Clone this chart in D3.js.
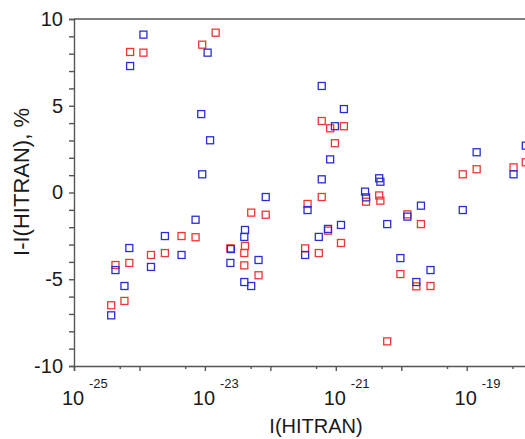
<!DOCTYPE html>
<html>
<head>
<meta charset="utf-8">
<script src="https://cdn.jsdelivr.net/npm/d3@7"></script>
<style>
  body { margin: 0; background: #fff; }
  svg { display: block; font-family: "Liberation Sans", Arial, sans-serif; }
</style>
</head>
<body>
<svg></svg>
<script>
// Chart size
var w = 525;
var h = 439;
var margin = { top: 19, left: 74, bottom: 73 };

// Blue series: line intensity (HITRAN) and deviation, %
var blueIntensity = [
  1.15e-24, 7.2e-25, 1.1e-23, 8.8e-24, 1.2e-23, 9.1e-24, 6.1e-22, 1.33e-21, 9.7e-22, 8.2e-22,
  6.1e-22, 8.5e-23, 2.8e-21, 2.9e-21, 4.6e-21, 4.8e-21, 1.42e-19, 5.2e-19, 8.0e-19, 7.2e-24,
  2.45e-24, 7.0e-25, 4.4e-24, 4.3e-25, 1.5e-24, 5.9e-25, 3.7e-25, 4.1e-23, 4.0e-23, 2.5e-23,
  2.45e-23, 6.6e-23, 4.0e-23, 5.1e-23, 3.7e-22, 1.2e-21, 7.6e-22, 5.5e-22, 3.4e-22, 2.0e-20,
  8.7e-20, 1.24e-20, 6.1e-21, 9.7e-21, 2.8e-20, 1.7e-20
];
var blueDeviation = [
  9.10, 7.29, 8.06, 4.52, 3.01, 1.05, 6.14, 4.81, 3.82, 1.91,
  0.76, -0.26, 0.05, -0.28, 0.82, 0.62, 2.32, 1.05, 2.70, -1.57,
  -2.51, -3.20, -3.60, -4.47, -4.29, -5.39, -7.08, -2.16, -2.56, -3.26,
  -4.06, -3.89, -5.16, -5.39, -1.01, -1.87, -2.10, -2.56, -3.60, -0.76,
  -1.01, -1.39, -1.82, -3.78, -4.47, -5.16
];

// Red series
var redIntensity = [
  7.2e-25, 1.15e-24, 9.1e-24, 1.46e-23, 6.1e-22, 8.2e-22, 1.33e-21, 9.7e-22, 6.1e-22, 4.6e-21,
  2.9e-21, 4.8e-21, 8.7e-20, 1.42e-19, 5.2e-19, 8.0e-19, 4.4e-24, 7.2e-24, 1.5e-24, 2.45e-24,
  4.3e-25, 7.0e-25, 5.9e-25, 3.7e-25, 5.1e-23, 8.5e-23, 2.45e-23, 4.1e-23, 4.0e-23, 4.0e-23,
  6.6e-23, 3.7e-22, 7.6e-22, 1.2e-21, 3.4e-22, 5.5e-22, 1.24e-20, 2.0e-20, 9.7e-21, 1.7e-20,
  2.8e-20, 6.1e-21
];
var redDeviation = [
  8.10, 8.06, 8.52, 9.21, 4.12, 3.70, 3.82, 2.84, -0.26, -0.17,
  -0.53, -0.47, 1.05, 1.34, 1.45, 1.74, -2.51, -2.58, -3.60, -3.49,
  -4.18, -4.06, -6.25, -6.50, -1.16, -1.28, -3.22, -3.08, -3.49, -4.20,
  -4.77, -0.66, -2.20, -2.91, -3.22, -3.49, -1.26, -1.82, -4.70, -5.41,
  -5.39, -8.58
];

// Tick values
var xMajorExp = [-25, -24, -23, -22, -21, -20, -19, -18];
var xLabelExp = [-25, -23, -21, -19];
var xMinor = [5e-25, 5e-24, 5e-23, 5e-22, 5e-21, 5e-20, 5e-19];
var yTicks = d3.range(-10, 11, 1);
var yLabels = [-10, -5, 0, 5, 10];

var svg = d3.select("svg")
    .attr("width", w)
    .attr("height", h);

// Scales (x axis runs a bit past the right edge of the picture)
var x = d3.scaleLog()
    .domain([1e-25, 1e-18])
    .range([margin.left, margin.left + 7 * 65.45]);

var y = d3.scaleLinear()
    .domain([-10, 10])
    .range([h - margin.bottom, margin.top]);

var axisColor = "#555";
var textColor = "#1a1a1a";

// Top frame line
svg.append("line")
    .attr("x1", x(1e-25)).attr("x2", x(1e-18))
    .attr("y1", y(10)).attr("y2", y(10))
    .attr("stroke", axisColor).attr("stroke-width", 1.4);

// Y axis
var yAxis = svg.append("g")
    .attr("transform", "translate(" + margin.left + ",0)")
    .call(d3.axisLeft(y)
        .tickValues(yTicks)
        .tickSize(5)
        .tickPadding(6)
        .tickFormat(d => yLabels.indexOf(d) >= 0 ? d : ""));

// X axis: major decade ticks
var xAxis = svg.append("g")
    .attr("transform", "translate(0," + y(-10) + ")")
    .call(d3.axisBottom(x)
        .tickValues(xMajorExp.map(e => Math.pow(10, e)))
        .tickSize(5)
        .tickFormat(""));

// X axis: minor ticks at 5 x 10^n
svg.append("g")
    .attr("transform", "translate(0," + y(-10) + ")")
    .call(d3.axisBottom(x)
        .tickValues(xMinor)
        .tickSize(3)
        .tickFormat(""))
    .call(g => g.select(".domain").remove());

svg.selectAll(".domain, .tick line")
    .attr("stroke", axisColor)
    .attr("stroke-width", 1.4);

yAxis.selectAll("text")
    .attr("fill", textColor)
    .style("font-size", "20px");

// X tick labels: "10" with a raised exponent
var xLab = svg.append("g");
xLabelExp.forEach(function (e) {
    var px = x(Math.pow(10, e));
    xLab.append("text")
        .attr("x", px - 1)
        .attr("y", 405)
        .attr("text-anchor", "middle")
        .attr("fill", textColor)
        .style("font-size", "20px")
        .text("10");
    xLab.append("text")
        .attr("x", px + 15)
        .attr("y", 388)
        .attr("fill", textColor)
        .style("font-size", "13px")
        .text(String(e));
});

// Axis titles
svg.append("text")
    .attr("x", 316)
    .attr("y", 433)
    .attr("text-anchor", "middle")
    .attr("fill", textColor)
    .style("font-size", "20px")
    .text("I(HITRAN)");

svg.append("text")
    .attr("transform", "translate(29," + 182 + ") rotate(-90)")
    .attr("text-anchor", "middle")
    .attr("fill", textColor)
    .style("font-size", "22px")
    .text("I-I(HITRAN), %");

// Markers: open squares
var size = 7;
function drawSeries(xs, ys, color) {
    var data = xs.map((v, i) => ({ x: v, y: ys[i] }));
    svg.append("g")
        .selectAll("rect")
        .data(data)
        .enter().append("rect")
        .attr("x", d => x(d.x) - size / 2)
        .attr("y", d => y(d.y) - size / 2)
        .attr("width", size)
        .attr("height", size)
        .attr("fill", "none")
        .attr("stroke", color)
        .attr("stroke-width", 1.3);
}

drawSeries(redIntensity, redDeviation, "#f03535");
drawSeries(blueIntensity, blueDeviation, "#2a2ed4");
</script>
</body>
</html>
